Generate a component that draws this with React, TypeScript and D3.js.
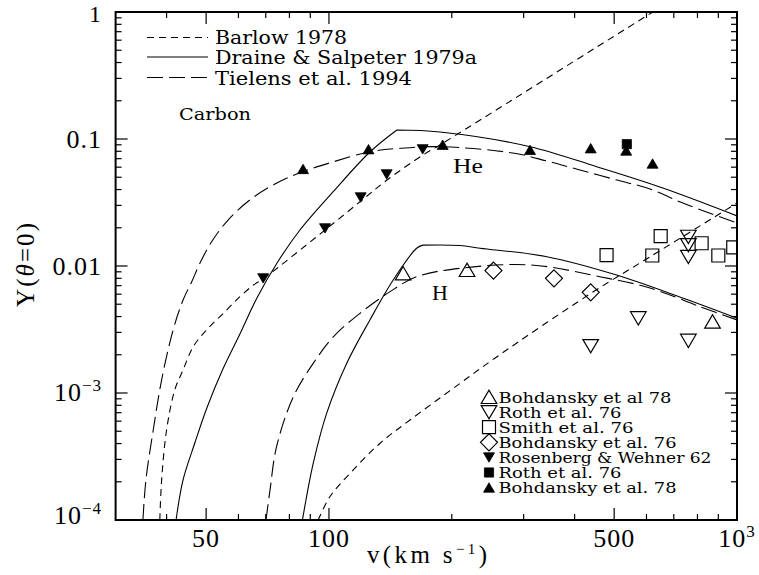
import React from 'react';
import * as d3 from 'd3';

const W = 759;
const H = 575;
const PLOT = { left: 115.6, right: 737, top: 12, bottom: 520 };

const xDomain: [number, number] = [30, 1000];
const yDomain: [number, number] = [1e-4, 1];
const xMajorTicks = [50, 100, 500, 1000];
const xMajorLabels = ['50', '100', '500', '10^3'];
const xMinorTicks = [40, 60, 70, 80, 90, 200, 300, 400, 600, 700, 800, 900];
const yMajorTicks = [1e-4, 1e-3, 0.01, 0.1, 1];
const yMajorLabels = ['10^-4', '10^-3', '0.01', '0.1', '1'];
const yMinorMultipliers = [2, 3, 4, 5, 6, 7, 8, 9];

// Model curves [v (km/s), Y]
const barlowHe: [number, number][] = [
  [38.5, 1e-4], [38.9, 2.07e-4], [40.0, 5.11e-4], [41.9, 1.06e-3], [43.9, 1.52e-3],
  [46.5, 2.32e-3], [50.1, 3.13e-3], [55.1, 4.24e-3], [60.5, 5.73e-3], [65.3, 7.08e-3],
  [68.9, 7.9e-3], [97.8, 0.0192], [119.8, 0.0325], [138.7, 0.0475], [170, 0.0748],
  [187, 0.0897], [622, 1], [1000, 2.57],
];
const barlowH: [number, number][] = [
  [94.1, 1e-4], [100.6, 1.53e-4], [114.7, 2.48e-4], [133.4, 4.02e-4], [158, 6.13e-4],
  [209.5, 1.19e-3], [255, 1.88e-3], [436, 6.02e-3], [612, 0.0118], [1000, 0.0313],
];
const draineHe: [number, number][] = [
  [42.2, 1e-4], [43.9, 2.07e-4], [47.0, 4.11e-4], [50.2, 7.62e-4], [55.0, 1.55e-3],
  [60.5, 2.91e-3], [66.6, 5.6e-3], [74.6, 0.01056], [84.9, 0.0192], [102.3, 0.0383],
  [126, 0.079], [146.7, 0.1177], [187, 0.1135], [311, 0.087], [453, 0.0605],
  [658, 0.0411], [1000, 0.0248],
];
const draineH: [number, number][] = [
  [86.1, 1e-4], [91.5, 2.79e-4], [98.7, 6.92e-4], [110.5, 1.71e-3], [126, 3.76e-3],
  [143.7, 7.76e-3], [164, 0.0138], [170, 0.0146], [209.5, 0.0145], [234.5, 0.0138],
  [342, 0.01184], [507, 0.00849], [739, 0.00557], [1000, 0.00388],
];
const tielensHe: [number, number][] = [
  [35.0, 1e-4], [35.6, 2.07e-4], [37.1, 5.11e-4], [38.9, 1.27e-3], [41.5, 3.13e-3],
  [43.9, 5.4e-3], [46.1, 7.52e-3], [48.3, 0.01057], [51.7, 0.01573], [56.6, 0.023],
  [64.0, 0.0331], [73.7, 0.0442], [85.9, 0.055], [102.3, 0.066], [126, 0.0794],
  [149.3, 0.0845], [187, 0.087], [282, 0.0776], [342, 0.0671], [412, 0.057],
  [508, 0.0475], [612, 0.0404], [737, 0.0313], [1000, 0.0218],
];
const tielensH: [number, number][] = [
  [70.1, 1e-4], [71.7, 1.72e-4], [74.4, 3.78e-4], [81.8, 9.35e-4], [91.5, 1.71e-3],
  [102.5, 2.77e-3], [119.1, 4.24e-3], [141.1, 6.28e-3], [164, 8.24e-3], [209.5, 9.59e-3],
  [311, 0.0102], [461, 8.24e-3], [612, 6.71e-3], [812, 4.78e-3], [1000, 3.76e-3],
];

// Measurements [v, Y]
const bohdansky78He: [number, number][] = [
  [86.4, 0.058], [125, 0.083], [190, 0.09], [311, 0.082], [438, 0.0845], [535, 0.081], [621, 0.064],
];
const roth76He: [number, number][] = [[537, 0.091]];
const rosenbergWehner62: [number, number][] = [
  [69, 0.008], [97.8, 0.0198], [119.6, 0.0347], [138.5, 0.0527], [169.7, 0.083],
];
const bohdansky78H: [number, number][] = [[152, 0.00875], [218, 0.0093], [871, 0.00365]];
const roth76H: [number, number][] = [
  [760, 0.017], [760, 0.0146], [760, 0.0118], [573, 0.00388], [438, 0.00234], [760, 0.00258],
];
const smith76: [number, number][] = [
  [479, 0.0122], [650, 0.0172], [620, 0.0121], [819, 0.0151], [900, 0.0121], [979, 0.014],
];
const bohdansky76: [number, number][] = [[253, 0.0092], [356, 0.008], [438, 0.0062]];

const curveLegend = ['Barlow 1978', 'Draine & Salpeter 1979a', 'Tielens et al. 1994'];
const markerLegend = [
  'Bohdansky et al 78',
  'Roth et al. 76',
  'Smith et al. 76',
  'Bohdansky et al. 76',
  'Rosenberg & Wehner 62',
  'Roth et al. 76',
  'Bohdansky et al. 78',
];

type Shape = 'triUpOpen' | 'triDownOpen' | 'squareOpen' | 'diamondOpen' | 'triDownFilled' | 'squareFilled' | 'triUpFilled';

function shapePath(shape: Shape): string {
  switch (shape) {
    case 'triUpOpen':
      return 'M-7.8,6.5L7.8,6.5L0,-6.8Z';
    case 'triDownOpen':
      return 'M-7.8,-6.5L7.8,-6.5L0,6.8Z';
    case 'squareOpen':
      return 'M-6.5,-6.5L6.5,-6.5L6.5,6.5L-6.5,6.5Z';
    case 'diamondOpen':
      return 'M0,-8.5L8.5,0L0,8.5L-8.5,0Z';
    case 'triDownFilled':
      return 'M-5.5,-4.6L5.5,-4.6L0,4.8Z';
    case 'squareFilled':
      return 'M-4.6,-4.6L4.6,-4.6L4.6,4.6L-4.6,4.6Z';
    case 'triUpFilled':
      return 'M-5.5,4.6L5.5,4.6L0,-4.8Z';
  }
}

function Marker({ x, y, shape }: { x: number; y: number; shape: Shape }) {
  const filled = shape.endsWith('Filled');
  return (
    <path
      d={shapePath(shape)}
      transform={`translate(${x},${y})`}
      fill={filled ? '#000' : 'none'}
      stroke="#000"
      strokeWidth={filled ? 0.8 : 1.2}
    />
  );
}

function expLabel(label: string, supFs: number) {
  if (label.includes('^')) {
    const [base, exp] = label.split('^');
    return (
      <>
        <tspan>{base}</tspan>
        <tspan dy={-10} fontSize={supFs}>{exp.replace('-', '\u2212')}</tspan>
      </>
    );
  }
  return label;
}

export default function App() {
  const x = d3.scaleLog().domain(xDomain).range([PLOT.left, PLOT.right]);
  const y = d3.scaleLog().domain(yDomain).range([PLOT.bottom, PLOT.top]);

  const line = d3
    .line<[number, number]>()
    .x((d) => x(d[0]))
    .y((d) => y(d[1]))
    .curve(d3.curveCatmullRom.alpha(0.5));

  // split curves with a sharp peak at their maximum
  const peaked = (data: [number, number][]) => {
    const i = d3.maxIndex(data, (d) => d[1]);
    return (line(data.slice(0, i + 1)) || '') + (line(data.slice(i)) || '');
  };

  const yMinor: number[] = [];
  yMajorTicks.slice(0, -1).forEach((d) => yMinorMultipliers.forEach((m) => yMinor.push(d * m)));

  const serif = '"Liberation Serif", "Times New Roman", serif';
  const legFont = '"DejaVu Serif", serif';

  const markerSets: { data: [number, number][]; shape: Shape }[] = [
    { data: bohdansky78H, shape: 'triUpOpen' },
    { data: roth76H, shape: 'triDownOpen' },
    { data: smith76, shape: 'squareOpen' },
    { data: bohdansky76, shape: 'diamondOpen' },
    { data: rosenbergWehner62, shape: 'triDownFilled' },
    { data: roth76He, shape: 'squareFilled' },
    { data: bohdansky78He, shape: 'triUpFilled' },
  ];
  const legendWidths = [173, 123, 135, 178, 213, 123, 178];
  const curveLegendWidths = [132, 262, 197];
  const curveDash = ['7 5', '', '16 6'];

  const majLen = 12;
  const minLen = 6;

  return (
    <svg
      width={W}
      height={H}
      style={{ position: 'absolute', left: 0, top: 0, background: '#fff' }}
      xmlns="http://www.w3.org/2000/svg"
    >
      <rect x={0} y={0} width={W} height={H} fill="#fff" />
      <defs>
        <clipPath id="plotClip">
          <rect x={PLOT.left} y={PLOT.top} width={PLOT.right - PLOT.left} height={PLOT.bottom - PLOT.top} />
        </clipPath>
      </defs>

      {/* curves */}
      <g clipPath="url(#plotClip)" fill="none" stroke="#000" strokeWidth={1.1}>
        <path d={line(barlowHe) || ''} strokeDasharray={curveDash[0]} />
        <path d={line(barlowH) || ''} strokeDasharray={curveDash[0]} />
        <path d={peaked(draineHe)} />
        <path d={peaked(draineH)} />
        <path d={line(tielensHe) || ''} strokeDasharray={curveDash[2]} />
        <path d={line(tielensH) || ''} strokeDasharray={curveDash[2]} />
      </g>

      {/* markers */}
      <g clipPath="url(#plotClip)">
        {markerSets.map((s, i) =>
          s.data.map((d, j) => <Marker key={`${i}-${j}`} x={x(d[0])} y={y(d[1])} shape={s.shape} />)
        )}
      </g>

      {/* frame */}
      <rect
        x={PLOT.left}
        y={PLOT.top}
        width={PLOT.right - PLOT.left}
        height={PLOT.bottom - PLOT.top}
        fill="none"
        stroke="#000"
        strokeWidth={2}
      />

      {/* ticks */}
      <g stroke="#000" strokeWidth={1.2}>
        {xMajorTicks.map((t) => (
          <g key={`xM${t}`}>
            <line x1={x(t)} x2={x(t)} y1={PLOT.bottom} y2={PLOT.bottom - majLen} />
            <line x1={x(t)} x2={x(t)} y1={PLOT.top} y2={PLOT.top + majLen} />
          </g>
        ))}
        {xMinorTicks.map((t) => (
          <g key={`xm${t}`}>
            <line x1={x(t)} x2={x(t)} y1={PLOT.bottom} y2={PLOT.bottom - minLen} />
            <line x1={x(t)} x2={x(t)} y1={PLOT.top} y2={PLOT.top + minLen} />
          </g>
        ))}
        {yMajorTicks.map((t) => (
          <g key={`yM${t}`}>
            <line x1={PLOT.left} x2={PLOT.left + majLen} y1={y(t)} y2={y(t)} />
            <line x1={PLOT.right} x2={PLOT.right - majLen} y1={y(t)} y2={y(t)} />
          </g>
        ))}
        {yMinor.map((t) => (
          <g key={`ym${t}`}>
            <line x1={PLOT.left} x2={PLOT.left + minLen} y1={y(t)} y2={y(t)} />
            <line x1={PLOT.right} x2={PLOT.right - minLen} y1={y(t)} y2={y(t)} />
          </g>
        ))}
      </g>

      {/* tick labels */}
      <g fontFamily={serif} fontSize={26} fill="#000" letterSpacing={1}>
        {xMajorTicks.map((t, i) => (
          <text key={`xl${t}`} x={x(t)} y={547} textAnchor="middle">
            {expLabel(xMajorLabels[i], 17)}
          </text>
        ))}
        {yMajorTicks.map((t, i) => {
          const isTop = t === 1;
          const off = yMajorLabels[i].includes('^') ? (t < 5e-4 ? 4 : 8) : isTop ? 10 : 9;
          return (
            <text key={`yl${t}`} x={102} y={y(t) + off} textAnchor="end" fontSize={isTop ? 24 : 26}>
              {expLabel(yMajorLabels[i], 17)}
            </text>
          );
        })}
      </g>

      {/* axis labels */}
      <text
        x={367}
        y={563}
        fontFamily={serif}
        fontSize={25}
        textLength={120}
        lengthAdjust="spacing"
      >
        v(km s<tspan dy={-9} fontSize={15}>{'\u22121'}</tspan>
        <tspan dy={9}>)</tspan>
      </text>
      <text
        transform="translate(34,265) rotate(-90)"
        textAnchor="middle"
        fontFamily={serif}
        fontSize={25}
        textLength={84}
        lengthAdjust="spacing"
      >
        Y(<tspan fontStyle="italic">θ</tspan>=0)
      </text>

      {/* curve legend */}
      <g fontFamily={legFont} fontSize={18}>
        {curveLegend.map((name, i) => {
          const ly = [37.5, 57, 77.5][i];
          return (
            <g key={name}>
              <line
                x1={147}
                x2={208}
                y1={ly}
                y2={ly}
                stroke="#000"
                strokeWidth={1.1}
                strokeDasharray={curveDash[i] || undefined}
              />
              <text x={215} y={[43.5, 63.5, 84.5][i]} textLength={curveLegendWidths[i]} lengthAdjust="spacingAndGlyphs">
                {name}
              </text>
            </g>
          );
        })}
        <text x={179} y={120} fontSize={17} textLength={72} lengthAdjust="spacingAndGlyphs">
          Carbon
        </text>
      </g>

      {/* curve group labels */}
      <text x={453} y={173} fontFamily={serif} fontSize={22} textLength={30} lengthAdjust="spacingAndGlyphs">
        He
      </text>
      <text x={432} y={300} fontFamily={serif} fontSize={22}>
        H
      </text>

      {/* marker legend */}
      <g fontFamily={legFont} fontSize={14.5}>
        {markerLegend.map((name, i) => {
          const base = 402.5 + i * 15.1;
          return (
            <g key={`ml${i}`}>
              <Marker x={489} y={base - 5.5} shape={markerSets[i].shape} />
              <text x={498.5} y={base} textLength={legendWidths[i]} lengthAdjust="spacingAndGlyphs">
                {name}
              </text>
            </g>
          );
        })}
      </g>
    </svg>
  );
}
